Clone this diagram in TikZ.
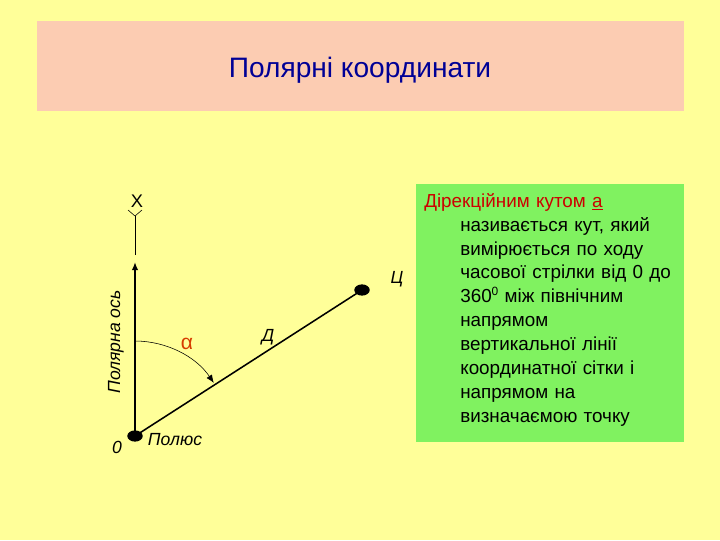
\documentclass[tikz,border=0pt]{standalone}
\usepackage{fontspec}
\setmainfont{Liberation Sans}
\usetikzlibrary{arrows.meta,shapes.geometric}
\definecolor{bgyellow}{RGB}{255,255,153}
\definecolor{titlepink}{RGB}{252,204,178}
\definecolor{boxgreen}{RGB}{128,242,96}
\definecolor{titleblue}{RGB}{0,0,150}
\definecolor{alphared}{RGB}{214,60,0}
\definecolor{termred}{RGB}{204,0,0}
\newcommand{\hang}{\hspace*{0.9cm}}

\begin{document}
\begin{tikzpicture}[x=0.025cm, y=-0.025cm, font=\fontsize{12}{14}\selectfont,
	label/.style={font=\fontsize{12.5}{14}\selectfont\itshape, inner sep=1pt},
	dot/.style={fill=black, ellipse, minimum width=11pt, minimum height=8pt, inner sep=0pt},
	axis/.style={line width=1.1pt},
	-{Latex[length=2mm, width=1.6mm]}]
	\fill[color=bgyellow] (0,0) rectangle (720,540);
	\fill[color=titlepink] (37,21) rectangle (684,111);
	\node[color=titleblue, font=\fontsize{20}{24}\selectfont, anchor=base] (title) at (360,77) {Полярні координати};
	\fill[color=boxgreen] (416,184) rectangle (684,442);
	\node[anchor=north west, inner sep=0pt, text width=7cm, align=left, font=\fontsize{13.4}{17}\selectfont] (def) at (424,193)
	  {{\color{termred}Дірекційним кутом \underline{а}}\\
	  \hang називається кут, який\\ \hang вимірюється по ходу\\ \hang часової стрілки від 0 до\\
	  \hang 360\raisebox{5.5pt}{\fontsize{8.5}{9}\selectfont 0} між північним\\ \hang напрямом\\ \hang вертикальної лінії\\
	  \hang координатної сітки і\\ \hang напрямом на\\ \hang визначаємою точку};
	\node[dot] (pole) at (135,436) {};
	\node[dot] (target) at (362,290) {};
	\coordinate (axtop) at (135,262);
	\coordinate (axcont) at (135,255);
	\coordinate (axend) at (135,216);
	\coordinate (arcstart) at (135,341);
	\draw[axis] (pole.center) -- (axtop);
	\draw[-, thin] (axcont) -- (axend);
	\draw[-, thin] (axend) -- ++(-7,-6) (axend) -- ++(7,-6);
	\draw[-, axis] (pole.center) -- (target.center);
	\draw[thin] (arcstart) arc[start angle=-90, end angle=-34, radius=95];
	\node[font=\fontsize{13}{14}\selectfont] (xlabel) at (137,201) {X};
	\node[label] (tlabel) at (397,279) {Ц};
	\node[label] (dlabel) at (268,337) {Д};
	\node[color=alphared, font=\fontsize{15}{16}\selectfont] (alpha) at (187,344) {α};
	\node[label, rotate=90] (axlabel) at (116,342) {Полярна ось};
	\node[label] (zero) at (117,447) {0};
	\node[label] (polelabel) at (175,440) {Полюс};
\end{tikzpicture}
\end{document}
